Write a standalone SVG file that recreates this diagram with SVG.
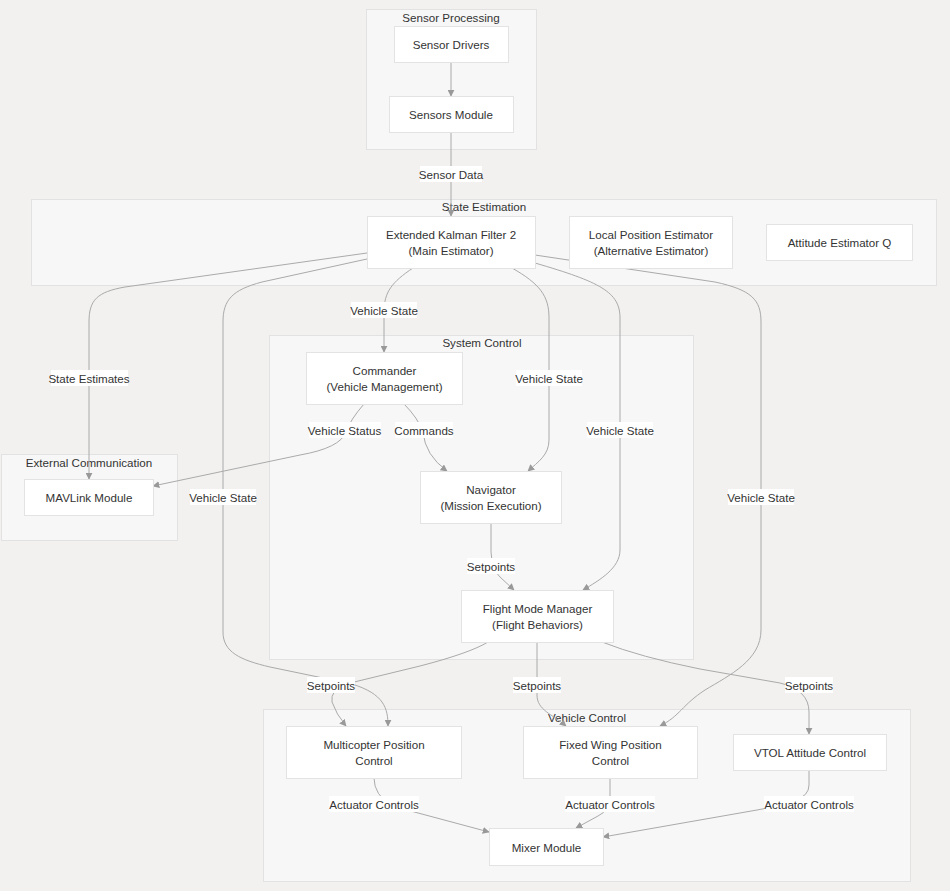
<svg xmlns="http://www.w3.org/2000/svg" width="950" height="891" viewBox="0 0 950 891">
<defs>
<marker id="arr" viewBox="0 0 10 10" refX="9" refY="5" markerWidth="7" markerHeight="7" markerUnits="userSpaceOnUse" orient="auto">
<path d="M0,0 L10,5 L0,10 z" fill="#999"/>
</marker>
<style>
.cl{fill:#f7f7f7;stroke:#e2e2e2;stroke-width:1}
.ct{font-family:"Liberation Sans",Arial,sans-serif;font-size:11.6px;fill:#333;text-anchor:middle}
.nd{fill:#fff;stroke:#e3e3e3;stroke-width:1}
.nt{font-family:"Liberation Sans",Arial,sans-serif;font-size:11.6px;fill:#333;text-anchor:middle;dominant-baseline:central}
.e{fill:none;stroke:#aaa;stroke-width:1;marker-end:url(#arr)}
.lb{fill:#fff}
.lt{font-family:"Liberation Sans",Arial,sans-serif;font-size:11.6px;fill:#333;text-anchor:middle;dominant-baseline:central}
</style>
</defs>
<rect width="950" height="891" fill="#f2f1f0"/>

<g id="clusters">
<g id="cl-sensor"><rect class="cl" x="366.5" y="9.5" width="170" height="140"/><text class="ct" x="451" y="22">Sensor Processing</text></g>
<g id="cl-state"><rect class="cl" x="31.5" y="199.5" width="905" height="86"/><text class="ct" x="484" y="211">State Estimation</text></g>
<g id="cl-system"><rect class="cl" x="269.5" y="335.5" width="424" height="324"/><text class="ct" x="482" y="347">System Control</text></g>
<g id="cl-ext"><rect class="cl" x="1.5" y="454.5" width="176" height="86"/><text class="ct" x="89" y="467">External Communication</text></g>
<g id="cl-vc"><rect class="cl" x="263.5" y="709.5" width="647" height="172"/><text class="ct" x="587" y="722">Vehicle Control</text></g>
</g>

<g id="connectors">
<path class="e" d="M451,62 L451,96"/>
<path class="e" d="M451,132 L451,216"/>
<path class="e" d="M367,253 L125,287 C97,292 89,300 89,322 L89,479"/>
<path class="e" d="M367,259 L262,282 C232,290 223,300 223,322 L223,632 C223,652 240,660 270,667 L352,684 C384,694 388,708 388,726"/>
<path class="e" d="M413,268 C392,282 384,292 384,312 L384,352"/>
<path class="e" d="M512,268 C540,284 549,296 549,318 L549,440 C549,455 538,462 528,471"/>
<path class="e" d="M535,263 C600,282 620,292 620,318 L620,550 C620,568 600,580 583,590"/>
<path class="e" d="M535,255 L715,282 C752,290 761,300 761,322 L761,630 C761,660 730,675 705,690 C682,705 680,716 660,726"/>
<path class="e" d="M364,404 Q350,420 346,432 Q340,448 300,455 L153,486"/>
<path class="e" d="M404,404 Q418,418 423,432 Q425,455 447,471"/>
<path class="e" d="M491,523 L491,552 Q492,570 500,577 L514,590"/>
<path class="e" d="M488,642 Q470,653 420,666 L346,684 Q330,690 332,702 Q336,714 346,726"/>
<path class="e" d="M537,642 L537,695 C537,710 552,714 566,726"/>
<path class="e" d="M602,642 Q640,657 700,669 L780,683 Q809,690 809,712 L809,734"/>
<path class="e" d="M374,778 Q374,795 392,806 L489,832"/>
<path class="e" d="M610,778 L610,798 Q610,810 598,816 L576,828"/>
<path class="e" d="M809,770 L809,785 Q809,796 795,800 Q780,806 757,810 L603,837"/>
</g>

<g id="edge-labels">
<rect class="lb" x="420" y="166" width="62" height="16"/><text class="lt" x="451" y="174">Sensor Data</text>
<rect class="lb" x="51" y="370" width="77" height="16"/><text class="lt" x="89" y="378">State Estimates</text>
<rect class="lb" x="351" y="302" width="66" height="16"/><text class="lt" x="384" y="310">Vehicle State</text>
<rect class="lb" x="516" y="370" width="66" height="16"/><text class="lt" x="549" y="378">Vehicle State</text>
<rect class="lb" x="587" y="422" width="66" height="16"/><text class="lt" x="620" y="430">Vehicle State</text>
<rect class="lb" x="190" y="489" width="66" height="16"/><text class="lt" x="223" y="497">Vehicle State</text>
<rect class="lb" x="728" y="489" width="66" height="16"/><text class="lt" x="761" y="497">Vehicle State</text>
<rect class="lb" x="309" y="422" width="72" height="16"/><text class="lt" x="344.5" y="430">Vehicle Status</text>
<rect class="lb" x="395" y="422" width="58" height="16"/><text class="lt" x="424" y="430">Commands</text>
<rect class="lb" x="467" y="558" width="48" height="16"/><text class="lt" x="491" y="566">Setpoints</text>
<rect class="lb" x="307" y="677" width="48" height="16"/><text class="lt" x="331" y="685">Setpoints</text>
<rect class="lb" x="513" y="677" width="48" height="16"/><text class="lt" x="537" y="685">Setpoints</text>
<rect class="lb" x="785" y="677" width="48" height="16"/><text class="lt" x="809" y="685">Setpoints</text>
<rect class="lb" x="329" y="796" width="90" height="16"/><text class="lt" x="374" y="804">Actuator Controls</text>
<rect class="lb" x="565" y="796" width="90" height="16"/><text class="lt" x="610" y="804">Actuator Controls</text>
<rect class="lb" x="764" y="796" width="90" height="16"/><text class="lt" x="809" y="804">Actuator Controls</text>
</g>

<g id="n-drivers"><rect class="nd" x="394.5" y="26.5" width="114" height="36"/><text class="nt" x="451" y="44">Sensor Drivers</text></g>
<g id="n-sensors"><rect class="nd" x="389.5" y="96.5" width="124" height="36"/><text class="nt" x="451" y="114">Sensors Module</text></g>
<g id="n-ekf2"><rect class="nd" x="367.5" y="216.5" width="168" height="52"/><text class="nt" x="451" y="234">Extended Kalman Filter 2</text><text class="nt" x="451" y="250">(Main Estimator)</text></g>
<g id="n-lpe"><rect class="nd" x="569.5" y="216.5" width="163" height="52"/><text class="nt" x="651" y="234">Local Position Estimator</text><text class="nt" x="651" y="250">(Alternative Estimator)</text></g>
<g id="n-attq"><rect class="nd" x="766.5" y="224.5" width="146" height="36"/><text class="nt" x="839.5" y="242">Attitude Estimator Q</text></g>
<g id="n-commander"><rect class="nd" x="306.5" y="352.5" width="156" height="52"/><text class="nt" x="384.5" y="370">Commander</text><text class="nt" x="384.5" y="386">(Vehicle Management)</text></g>
<g id="n-mavlink"><rect class="nd" x="24.5" y="479.5" width="129" height="36"/><text class="nt" x="89" y="497">MAVLink Module</text></g>
<g id="n-navigator"><rect class="nd" x="420.5" y="471.5" width="141" height="52"/><text class="nt" x="491" y="489">Navigator</text><text class="nt" x="491" y="505">(Mission Execution)</text></g>
<g id="n-fmm"><rect class="nd" x="461.5" y="590.5" width="152" height="52"/><text class="nt" x="537.5" y="608">Flight Mode Manager</text><text class="nt" x="537.5" y="624">(Flight Behaviors)</text></g>
<g id="n-mc"><rect class="nd" x="286.5" y="726.5" width="175" height="52"/><text class="nt" x="374" y="744">Multicopter Position</text><text class="nt" x="374" y="760">Control</text></g>
<g id="n-fw"><rect class="nd" x="523.5" y="726.5" width="174" height="52"/><text class="nt" x="610.5" y="744">Fixed Wing Position</text><text class="nt" x="610.5" y="760">Control</text></g>
<g id="n-vtol"><rect class="nd" x="733.5" y="734.5" width="153" height="36"/><text class="nt" x="810" y="752">VTOL Attitude Control</text></g>
<g id="n-mixer"><rect class="nd" x="489.5" y="828.5" width="114" height="37"/><text class="nt" x="546.5" y="847">Mixer Module</text></g>
</svg>
